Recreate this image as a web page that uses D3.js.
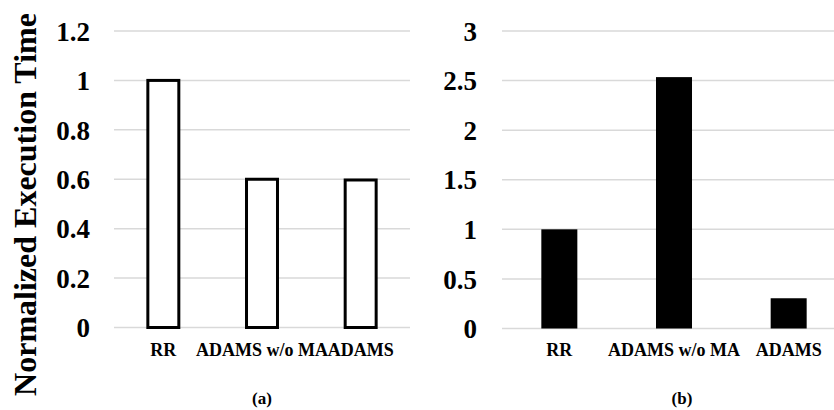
<!DOCTYPE html>
<html>
<head>
<meta charset="utf-8">
<script src="https://cdn.jsdelivr.net/npm/d3@7"></script>
<style>
  html, body { margin: 0; padding: 0; background: #fff; }
  svg { display: block; }
  text { font-family: "Liberation Serif", "Times New Roman", serif; font-weight: bold; fill: #000; }
</style>
</head>
<body>
<svg id="chart" width="834" height="410"></svg>
<script>
const categories = ["RR", "ADAMS w/o MA", "ADAMS"];
const valuesA = [1.0, 0.6, 0.597];
const valuesB = [1.0, 2.535, 0.305];
const ticksA = [0, 0.2, 0.4, 0.6, 0.8, 1, 1.2];
const ticksB = [0, 0.5, 1, 1.5, 2, 2.5, 3];
const yTitle = "Normalized Execution Time";
const captions = ["(a)", "(b)"];

const svg = d3.select("#chart");
svg.append("defs").append("clipPath").attr("id", "clipAll")
  .append("rect").attr("x", 0).attr("y", 0).attr("width", 834).attr("height", 410);

function panel(cfg) {
  const g = svg.append("g").attr("clip-path", "url(#clipAll)");
  const x = d3.scaleBand().domain(categories).range([cfg.x0, cfg.x1]).paddingInner(0.686).paddingOuter(0.343);
  const y = d3.scaleLinear().domain([0, cfg.max]).range([cfg.yBottom, 31]);

  // gridlines
  g.append("g").selectAll("line").data(cfg.ticks).join("line")
    .attr("x1", cfg.x0).attr("x2", cfg.x1)
    .attr("y1", d => y(d)).attr("y2", d => y(d))
    .attr("stroke", "#d9d9d9").attr("stroke-width", 1.5);

  // y axis labels
  const yAxis = d3.axisLeft(y).tickValues(cfg.ticks).tickSize(0).tickPadding(0)
    .tickFormat(d => String(d));
  const ya = g.append("g").attr("transform", `translate(${cfg.labelX},0)`).call(yAxis);
  ya.select(".domain").remove();
  ya.selectAll("text").attr("font-size", 27).attr("font-family", "Liberation Serif, serif")
    .attr("font-weight", "bold").attr("fill", "#000").attr("dy", "0.34em");

  // bars
  g.append("g").selectAll("rect").data(cfg.values).join("rect")
    .attr("x", (d, i) => x(categories[i]))
    .attr("width", x.bandwidth())
    .attr("y", d => y(d))
    .attr("height", d => y(0) - y(d))
    .attr("fill", cfg.fill)
    .attr("stroke", "#000")
    .attr("stroke-width", cfg.stroke);

  // category labels
  const xAxis = d3.axisBottom(x).tickSize(0).tickPadding(0);
  const xa = g.append("g").attr("transform", `translate(0,${cfg.catY})`).call(xAxis);
  xa.select(".domain").remove();
  xa.selectAll("text").attr("font-size", 18).attr("font-family", "Liberation Serif, serif")
    .attr("font-weight", "bold").attr("fill", "#000").attr("dy", 0);

  // caption
  g.append("text").attr("x", cfg.capX).attr("y", 404).attr("text-anchor", "middle")
    .attr("font-size", 17).text(cfg.caption);
}

panel({ x0: 114, x1: 410, max: 1.2, ticks: ticksA, values: valuesA, yBottom: 327.5,
  labelX: 90, fill: "#fff", stroke: 3, catY: 356, capX: 262, caption: captions[0] });
panel({ x0: 502, x1: 846, max: 3, ticks: ticksB, values: valuesB, yBottom: 328.5,
  labelX: 477, fill: "#000", stroke: 0, catY: 356, capX: 682, caption: captions[1] });

// y-axis title
svg.append("text")
  .attr("transform", "translate(36,204.5) rotate(-90)")
  .attr("text-anchor", "middle")
  .attr("font-size", 32)
  .text(yTitle);
</script>
</body>
</html>
